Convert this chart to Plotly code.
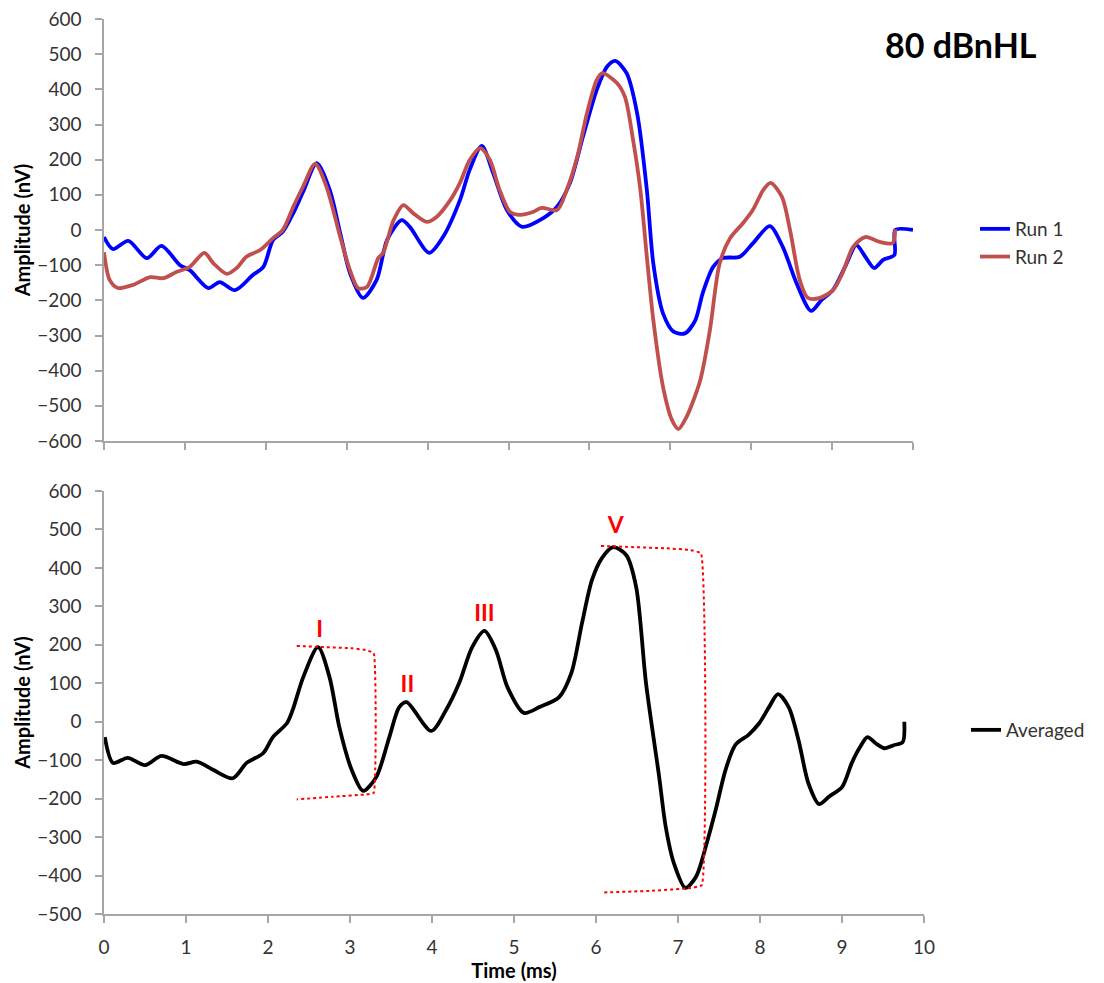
import plotly.graph_objects as go

# ---- Run 1 (blue) ----
run1_t = [0, 0.11, 0.30, 0.53, 0.71, 0.94, 1.06, 1.29, 1.43, 1.62, 1.84, 1.97, 2.09, 2.21,
          2.34, 2.46, 2.63, 2.79, 2.92, 3.04, 3.20, 3.37, 3.50, 3.68, 3.78, 4.02, 4.19, 4.40,
          4.52, 4.67, 4.81, 4.98, 5.17, 5.43, 5.60, 5.76, 5.92, 6.09, 6.22, 6.32, 6.46, 6.59,
          6.71, 6.79, 6.91, 7.04, 7.18, 7.31, 7.40, 7.53, 7.65, 7.86, 8.02, 8.23, 8.39, 8.56,
          8.74, 8.87, 9.01, 9.16, 9.30, 9.41, 9.52, 9.63, 9.77, 9.78, 10.0]
run1_v = [-20, -54, -31, -80, -45, -100, -114, -165, -148, -171, -128, -105, -28, -5,
          48, 108, 190, 114, -9, -122, -193, -142, -28, 28, 9, -65, -20, 85,
          171, 239, 162, 57, 9, 34, 66, 134, 265, 398, 465, 481, 446, 332,
          114, -95, -237, -289, -294, -256, -180, -105, -80, -76, -38, 11, -48, -151,
          -230, -199, -171, -105, -43, -76, -108, -85, -71, 0, 0]

# ---- Run 2 (red) ----
run2_t = [0, 0.07, 0.17, 0.36, 0.57, 0.73, 0.90, 1.06, 1.24, 1.35, 1.52, 1.64, 1.76, 1.93,
          2.09, 2.21, 2.34, 2.46, 2.61, 2.75, 2.92, 3.04, 3.14, 3.25, 3.39, 3.45, 3.58, 3.70,
          3.82, 3.99, 4.11, 4.28, 4.40, 4.52, 4.65, 4.77, 4.89, 5.02, 5.14, 5.30, 5.41, 5.60,
          5.72, 5.85, 5.97, 6.09, 6.16, 6.34, 6.44, 6.54, 6.63, 6.71, 6.79, 6.91, 7.02, 7.10,
          7.20, 7.37, 7.49, 7.61, 7.74, 7.90, 8.02, 8.15, 8.24, 8.38, 8.48, 8.60, 8.70, 8.85,
          9.01, 9.13, 9.26, 9.41, 9.59, 9.75, 9.78]
run2_v = [-63, -142, -165, -156, -134, -137, -119, -105, -65, -94, -125, -108, -76, -57,
          -23, 0, 66, 123, 188, 123, -20, -114, -165, -162, -80, -65, 28, 71,
          48, 23, 37, 85, 134, 199, 233, 199, 114, 51, 43, 51, 63, 57,
          114, 208, 332, 426, 446, 418, 378, 256, 114, -76, -256, -446, -540, -566,
          -532, -427, -284, -95, -23, 20, 57, 114, 134, 94, 0, -142, -193, -193,
          -171, -122, -48, -20, -34, -37, 2]

# ---- Averaged (black) ----
avg_t = [0.01, 0.11, 0.29, 0.50, 0.70, 0.97, 1.13, 1.33, 1.57, 1.74, 1.94, 2.06, 2.23, 2.30,
         2.43, 2.61, 2.75, 2.87, 3.02, 3.16, 3.32, 3.48, 3.60, 3.69, 3.99, 4.17, 4.33, 4.49,
         4.64, 4.78, 4.92, 5.12, 5.31, 5.55, 5.70, 5.83, 5.95, 6.07, 6.21, 6.37, 6.49, 6.61,
         6.77, 6.85, 6.95, 7.09, 7.22, 7.35, 7.46, 7.58, 7.70, 7.86, 7.99, 8.11, 8.22, 8.35,
         8.47, 8.59, 8.72, 8.84, 9.00, 9.12, 9.22, 9.31, 9.41, 9.52, 9.63, 9.74, 9.76]
avg_v = [-40, -107, -94, -113, -89, -110, -104, -125, -147, -107, -82, -40, -4, 30,
         116, 194, 116, -14, -125, -180, -144, -40, 38, 51, -24, 30, 100, 194,
         236, 186, 90, 23, 38, 64, 127, 257, 368, 425, 454, 433, 350, 100,
         -143, -273, -368, -432, -403, -316, -229, -125, -60, -34, -4, 38, 72, 38,
         -48, -160, -214, -195, -170, -107, -66, -40, -56, -69, -61, -53, 0]

# ---- peak-to-trough brackets for waves I and V ----
bracket_I_t = [2.35, 3.03, 3.20, 3.29, 3.29, 3.20, 2.79, 2.35]
bracket_I_v = [197, 191, 186, 178, -185, -189, -195, -202]
bracket_V_t = [6.06, 6.85, 7.13, 7.28, 7.29, 7.13, 6.65, 6.09]
bracket_V_v = [457, 451, 447, 438, -425, -433, -440, -444]

# ---- wave labels ----
wave_names = ["I", "II", "III", "V"]
wave_t = [2.63, 3.70, 4.64, 6.24]
wave_v = [236, 93, 277, 506]

y_ticks_top = list(range(-600, 601, 100))
y_ticks_bot = list(range(-500, 601, 100))
x_ticks = list(range(0, 11))

FONT = "Lato"
AXIS_GREY = "#A6A6A6"
TEXT_GREY = "#333333"

W, H = 1104, 983
top_x = [104 / W, 913 / W]
bot_x = [104 / W, 924 / W]
top_y = [1 - 441 / H, 1 - 19 / H]
bot_y = [1 - 914 / H, 1 - 491 / H]

LINE_SHAPE = dict(shape="spline", smoothing=0.8)

fig = go.Figure()

fig.add_trace(go.Scatter(x=run1_t, y=run1_v, name="Run 1", mode="lines",
                         line=dict(color="#0000FF", width=3.8, **LINE_SHAPE),
                         xaxis="x", yaxis="y", legend="legend"))
fig.add_trace(go.Scatter(x=run2_t, y=run2_v, name="Run 2", mode="lines",
                         line=dict(color="#C0504D", width=3.8, **LINE_SHAPE),
                         xaxis="x", yaxis="y", legend="legend"))
fig.add_trace(go.Scatter(x=avg_t, y=avg_v, name="Averaged", mode="lines",
                         line=dict(color="#000000", width=3.8, **LINE_SHAPE),
                         xaxis="x2", yaxis="y2", legend="legend2"))

for bt, bv in ((bracket_I_t, bracket_I_v), (bracket_V_t, bracket_V_v)):
    fig.add_trace(go.Scatter(x=bt, y=bv, mode="lines", showlegend=False, hoverinfo="skip",
                             line=dict(color="#FF0000", width=2, dash="dot",
                                       shape="spline", smoothing=0.3),
                             xaxis="x2", yaxis="y2"))

fig.add_trace(go.Scatter(x=wave_t, y=wave_v, mode="text", text=wave_names, showlegend=False,
                         textfont=dict(family=FONT, size=23, color="#FF0000", weight="bold"),
                         xaxis="x2", yaxis="y2", hoverinfo="skip"))


def x_axis(domain, anchor, labels, title=None):
    ax = dict(domain=domain, anchor=anchor, range=[0, 10], tickmode="array",
              tickvals=x_ticks, showgrid=False, zeroline=False, showline=True,
              linecolor=AXIS_GREY, linewidth=1.5, ticks="outside", ticklen=7,
              tickcolor=AXIS_GREY, tickwidth=1.5, showticklabels=labels, automargin=False,
              tickfont=dict(family=FONT, size=19, color=TEXT_GREY), ticklabelstandoff=8)
    if title:
        ax["title"] = dict(text=title, font=dict(family=FONT, size=20, color="#000000",
                                                 weight="bold"), standoff=2)
    return ax


def y_axis(domain, anchor, rng, ticks):
    return dict(domain=domain, anchor=anchor, range=rng, tickmode="array", tickvals=ticks,
                showgrid=False, zeroline=False, showline=True, linecolor=AXIS_GREY,
                linewidth=1.5, ticks="outside", ticklen=7, tickcolor=AXIS_GREY, tickwidth=1.5,
                automargin=False,
                tickfont=dict(family=FONT, size=19, color=TEXT_GREY), ticklabelstandoff=10,
                title=dict(text="Amplitude (nV)",
                           font=dict(family=FONT, size=20, color="#000000", weight="bold"),
                           standoff=1))


def inner_ticks(overlay, anchor, rng, vals):
    return dict(overlaying=overlay, anchor=anchor, range=rng, tickmode="array",
                tickvals=vals, showgrid=False, zeroline=False, showline=False,
                ticks="inside", ticklen=8, tickcolor=AXIS_GREY, tickwidth=1.5,
                showticklabels=False, automargin=False)


fig.update_layout(
    width=W, height=H, autosize=False,
    margin=dict(l=0, r=0, t=0, b=0),
    paper_bgcolor="white", plot_bgcolor="white",
    font=dict(family=FONT, color=TEXT_GREY),
    xaxis=x_axis(top_x, "y", False),
    yaxis=y_axis(top_y, "x", [-600, 600], y_ticks_top),
    xaxis2=x_axis(bot_x, "y2", True, "<b>Time (ms)</b>"),
    yaxis2=y_axis(bot_y, "x2", [-500, 600], y_ticks_bot),
    xaxis3=inner_ticks("x", "y", [0, 10], x_ticks),
    yaxis3=inner_ticks("y", "x", [-600, 600], y_ticks_top),
    xaxis4=inner_ticks("x2", "y2", [0, 10], x_ticks),
    yaxis4=inner_ticks("y2", "x2", [-500, 600], y_ticks_bot),
    legend=dict(x=975 / W, y=1 - 243 / H, xanchor="left", yanchor="middle",
                font=dict(family=FONT, size=19, color=TEXT_GREY), bgcolor="rgba(0,0,0,0)",
                itemwidth=30),
    legend2=dict(x=966 / W, y=1 - 730 / H, xanchor="left", yanchor="middle",
                 font=dict(family=FONT, size=19, color=TEXT_GREY), bgcolor="rgba(0,0,0,0)",
                 itemwidth=30),
    annotations=[dict(text="<b>80 dBnHL</b>", x=961 / W, y=1 - 44 / H, xref="paper",
                      yref="paper", xanchor="center", yanchor="middle", showarrow=False,
                      font=dict(family=FONT, size=34, color="#000000"))],
)

fig.write_html("out.html")
